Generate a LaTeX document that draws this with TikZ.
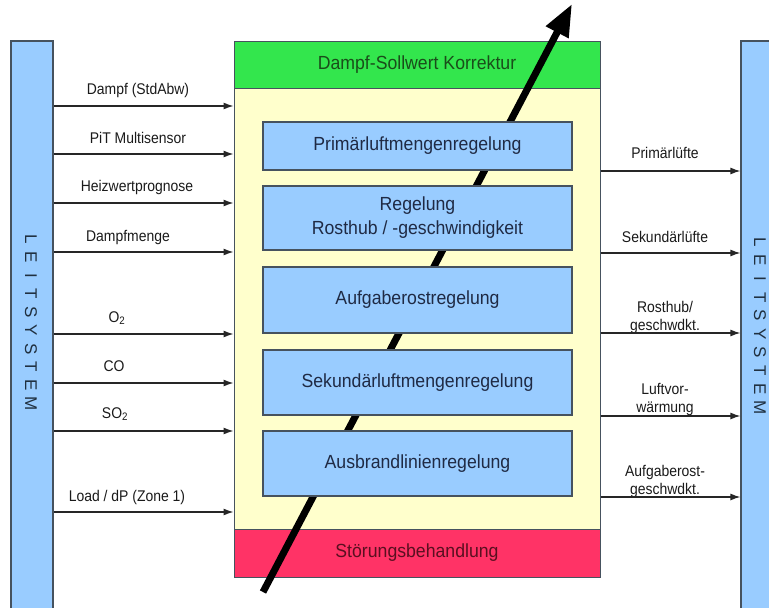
\documentclass[tikz,border=0pt]{standalone}
\usepackage{fontspec}
\setmainfont{Liberation Sans}
\newfontfamily\boxfont[FakeStretch=0.93]{Liberation Sans}
\newfontfamily\lblfont[FakeStretch=0.9]{Liberation Sans}
\usetikzlibrary{arrows.meta}
\definecolor{barblue}{HTML}{99CCFF}
\definecolor{boxblue}{HTML}{99CCFF}
\definecolor{edgegray}{HTML}{46525E}
\definecolor{paleyellow}{HTML}{FFFFCC}
\definecolor{brightgreen}{HTML}{33E64D}
\definecolor{pinkred}{HTML}{FF3366}
\definecolor{boxtext}{HTML}{1F2A44}
\definecolor{lbltext}{HTML}{1A1A1A}
\definecolor{greentext}{HTML}{1A4D1A}
\definecolor{redtext}{HTML}{5A0F20}
\definecolor{sysletter}{HTML}{203040}
\tikzset{
  bar/.style={draw=edgegray, fill=barblue, line width=1.2pt, inner sep=0pt},
  panel/.style={draw=edgegray, line width=1pt, inner sep=0pt, minimum width=366pt,
    font=\boxfont\fontsize{19}{24}\selectfont},
  bluebox/.style={draw=edgegray, fill=boxblue, line width=1.2pt, inner sep=0pt,
    minimum width=309pt, align=center, text=boxtext,
    font=\boxfont\fontsize{19}{24}\selectfont},
  lbl/.style={inner sep=0pt, text=lbltext, align=center,
    font=\lblfont\fontsize{15.5}{18}\selectfont},
  sig/.style={draw=black!85, line width=1.2pt, -{Latex[length=10pt,width=7pt]}},
  bigarrow/.style={draw=black, line width=7pt, -{Triangle[length=32pt,width=24pt]}},
  vlet/.style={rotate=-90, inner sep=0pt, text=sysletter, font=\fontsize{17}{17}\selectfont}
}
\begin{document}
\begin{tikzpicture}[x=1pt,y=-1pt]
\useasboundingbox (0,0) rectangle (769,608);
% side bars
\node[bar, minimum width=42pt, minimum height=572pt] (lbar) at (32,327) {};
\node[bar, minimum width=36pt, minimum height=572pt] (rbar) at (759,327) {};
\foreach \c [count=\i from 0] in {L,E,I,T,S,Y,S,T,E,M} {
  \node[vlet] (ll\i) at (31,239+18.3*\i) {\c};
  \node[vlet] (rl\i) at (760,242+18.4*\i) {\c};
}
% central panels
\node[panel, fill=paleyellow, minimum height=441pt] (ybox) at (417,308.5) {};
\node[panel, fill=brightgreen, minimum height=47pt, text=greentext] (gbox) at (417,64.5) {Dampf-Sollwert Korrektur};
\node[panel, fill=pinkred, minimum height=48pt, text=redtext] (rbox) at (417,553) {Störungsbehandlung};
% big arrow (behind the blue boxes)
\coordinate (abot) at (263,592);
\coordinate (atop) at (572,4);
\draw[bigarrow] (abot) -- (atop);
% blue boxes
\node[bluebox, minimum height=48pt] (b1) at (417.5,146) {Primärluftmengenregelung};
\node[bluebox, minimum height=64pt] (b2) at (417.5,218) {Regelung\\Rosthub / -geschwindigkeit};
\node[bluebox, minimum height=66pt] (b3) at (417.5,300) {Aufgaberostregelung};
\node[bluebox, minimum height=65pt] (b4) at (417.5,382.5) {Sekundärluftmengenregelung};
\node[bluebox, minimum height=65pt] (b5) at (417.5,463.5) {Ausbrandlinienregelung};
% left inputs
\node[lbl] (l1) at (138,90) {Dampf (StdAbw)};
\node[lbl] (l2) at (138,138) {PiT Multisensor};
\node[lbl] (l3) at (137,187) {Heizwertprognose};
\node[lbl] (l4) at (128,237) {Dampfmenge};
\node[lbl] (l5) at (117,318) {O\textsubscript{2}};
\node[lbl] (l6) at (114,366) {CO};
\node[lbl] (l7) at (115,414) {SO\textsubscript{2}};
\node[lbl] (l8) at (127,497) {Load / dP (Zone 1)};
\foreach \y in {106,154,203,252,334,383,431,512} {
  \draw[sig] (lbar.east |- 0,\y) -- (ybox.west |- 0,\y);
}
% right outputs
\node[lbl] (r1) at (665,153) {Primärlüfte};
\node[lbl] (r2) at (665,237) {Sekundärlüfte};
\node[lbl] (r3) at (665,317) {Rosthub/\\geschwdkt.};
\node[lbl] (r4) at (665,399) {Luftvor-\\wärmung};
\node[lbl] (r5) at (665,481) {Aufgaberost-\\geschwdkt.};
\foreach \y in {171,253,333,416,497} {
  \draw[sig] (ybox.east |- 0,\y) -- (rbar.west |- 0,\y);
}
\end{tikzpicture}
\end{document}
